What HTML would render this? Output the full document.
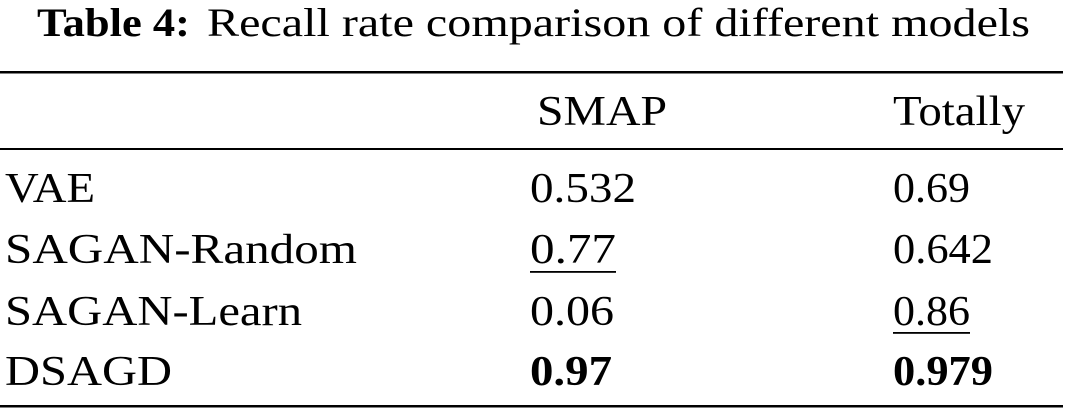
<!DOCTYPE html>
<html><head><meta charset="utf-8"><style>
html,body{margin:0;padding:0;background:#fff;}
svg{display:block;}
text{font-family:"Liberation Serif",serif;fill:#000;}
</style></head><body>
<svg width="1071" height="412" viewBox="0 0 1071 412">
<text x="37" y="36" font-size="40" font-weight="bold" textLength="153" lengthAdjust="spacingAndGlyphs">Table 4:</text>
<text x="207" y="36" font-size="40" textLength="823" lengthAdjust="spacingAndGlyphs">Recall rate comparison of different models</text>
<rect x="0" y="71" width="1063" height="2.5"/>
<text x="537" y="125" font-size="42" textLength="130" lengthAdjust="spacingAndGlyphs">SMAP</text>
<text x="893" y="125" font-size="42" textLength="132" lengthAdjust="spacingAndGlyphs">Totally</text>
<rect x="0" y="148" width="1063" height="2"/>
<text x="5" y="202" font-size="42" textLength="90" lengthAdjust="spacingAndGlyphs">VAE</text>
<text x="530" y="202" font-size="42" textLength="106" lengthAdjust="spacingAndGlyphs">0.532</text>
<text x="893" y="202" font-size="42" textLength="77" lengthAdjust="spacingAndGlyphs">0.69</text>
<text x="5" y="263" font-size="42" textLength="352" lengthAdjust="spacingAndGlyphs">SAGAN-Random</text>
<text x="530" y="263" font-size="42" textLength="86" lengthAdjust="spacingAndGlyphs">0.77</text>
<rect x="530" y="271" width="86" height="1.8"/>
<text x="893" y="263" font-size="42" textLength="100" lengthAdjust="spacingAndGlyphs">0.642</text>
<text x="5" y="325" font-size="42" textLength="297" lengthAdjust="spacingAndGlyphs">SAGAN-Learn</text>
<text x="530" y="325" font-size="42" textLength="84" lengthAdjust="spacingAndGlyphs">0.06</text>
<text x="893" y="325" font-size="42" textLength="77" lengthAdjust="spacingAndGlyphs">0.86</text>
<rect x="893" y="332" width="77" height="1.8"/>
<text x="5" y="385" font-size="42" textLength="167" lengthAdjust="spacingAndGlyphs">DSAGD</text>
<text x="530" y="385" font-size="42" font-weight="bold" textLength="82" lengthAdjust="spacingAndGlyphs">0.97</text>
<text x="893" y="385" font-size="42" font-weight="bold" textLength="100" lengthAdjust="spacingAndGlyphs">0.979</text>
<rect x="0" y="405" width="1063" height="2.5"/>
</svg>
</body></html>
